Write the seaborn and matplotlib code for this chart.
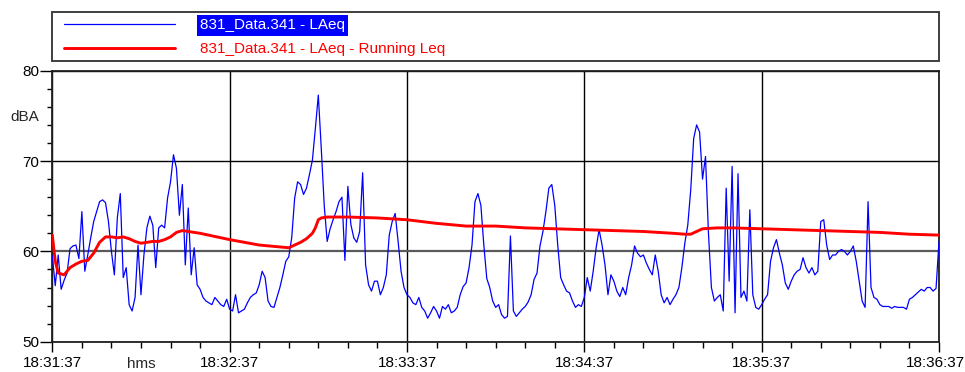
import numpy as np
import pandas as pd
import matplotlib
matplotlib.use("Agg")
import matplotlib.pyplot as plt
import matplotlib.transforms as mtrans
from matplotlib.patches import Rectangle
from matplotlib.ticker import MultipleLocator
import seaborn as sns

# ---------------- data ----------------
# seconds after 18:31:37, LAeq (dBA) at 1 s resolution
laeq = [
    59.5, 56.2, 59.6, 55.8, 56.8, 57.6, 60.3, 60.6, 60.7, 59.2,   # 0-9
    64.4, 57.8, 59.6, 61.5, 63.3, 64.4, 65.5, 65.7, 65.4, 63.3,   # 10-19
    60.0, 57.4, 63.7, 66.4, 57.1, 58.2, 54.1, 53.4, 54.9, 60.7,   # 20-29
    55.2, 59.6, 62.6, 63.9, 62.9, 58.2, 62.6, 62.9, 62.6, 65.9,   # 30-39
    67.7, 70.7, 69.2, 64.0, 67.4, 58.5, 64.8, 57.4, 60.4, 56.3,   # 40-49
    55.8, 54.9, 54.5, 54.3, 54.1, 54.9, 54.5, 54.1, 53.9, 54.7,   # 50-59
    53.6, 53.4, 55.2, 53.2, 53.4, 53.6, 54.3, 54.9, 55.2, 55.4,   # 60-69
    56.3, 57.8, 57.1, 54.5, 53.9, 53.8, 54.9, 56.0, 57.4, 58.9,   # 70-79
    59.4, 61.5, 65.9, 67.7, 67.4, 66.3, 67.0, 68.5, 70.1, 73.6,   # 80-89
    77.3, 71.4, 65.1, 61.1, 62.5, 63.5, 64.4, 65.5, 66.0, 59.0,   # 90-99
    67.2, 63.0, 61.5, 61.0, 62.2, 68.7, 58.5, 56.3, 55.6, 56.7,   # 100-109
    56.7, 55.2, 56.0, 57.4, 61.8, 63.3, 64.2, 61.1, 57.8, 56.0,   # 110-119
    55.2, 54.9, 54.3, 54.1, 54.9, 53.8, 53.4, 52.6, 53.2, 53.9,   # 120-129
    53.4, 52.6, 53.9, 53.6, 54.1, 53.2, 53.4, 53.8, 55.2, 56.1,   # 130-139
    56.5, 58.2, 60.7, 65.5, 66.4, 65.1, 60.7, 57.0, 56.0, 54.5,   # 140-149
    53.8, 54.1, 53.0, 52.6, 52.8, 61.7, 53.4, 52.8, 53.2, 53.6,   # 150-159
    53.9, 54.4, 55.2, 56.9, 57.6, 60.6, 62.2, 64.4, 67.0, 67.4,   # 160-169
    65.1, 60.7, 57.1, 56.3, 55.6, 55.4, 54.5, 53.8, 54.1, 53.9,   # 170-179
    54.9, 57.1, 55.6, 57.8, 60.4, 62.4, 60.7, 58.5, 55.2, 57.4,   # 180-189
    56.7, 55.6, 55.0, 56.0, 55.2, 57.1, 58.5, 60.6, 59.8, 59.4,   # 190-199
    59.6, 58.7, 58.0, 57.4, 59.6, 57.8, 55.2, 54.3, 54.9, 54.1,   # 200-209
    54.7, 55.2, 56.0, 58.2, 60.9, 62.9, 66.8, 72.5, 74.0, 73.2,   # 210-219
    68.0, 70.5, 62.0, 56.0, 54.5, 54.9, 55.2, 53.4, 67.0, 56.7,   # 220-229
    69.4, 53.2, 68.6, 54.9, 55.6, 54.5, 64.6, 55.2, 53.8, 53.6,   # 230-239
    54.1, 54.7, 55.2, 58.9, 60.4, 61.3, 59.8, 58.5, 56.5, 55.8,   # 240-249
    56.7, 57.4, 57.8, 58.0, 59.3, 58.2, 57.6, 58.2, 57.4, 57.8,   # 250-259
    63.3, 63.5, 60.7, 59.1, 59.6, 59.6, 60.0, 60.2, 60.0, 59.6,   # 260-269
    60.0, 60.6, 58.9, 56.7, 54.5, 53.8, 65.5, 56.0, 54.9, 54.7,   # 270-279
    54.1, 53.9, 53.9, 53.9, 53.7, 53.9, 53.8, 53.8, 53.8, 53.6,   # 280-289
    54.7, 54.9, 55.2, 55.5, 55.8, 55.6, 56.0, 56.0, 55.6, 55.9,   # 290-299
    61.1,                                                         # 300
]
laeq_t = list(range(len(laeq)))

# Running Leq (dBA)
run_t = [0, 1, 2, 4, 6, 8, 10, 12, 14, 16, 18, 20, 22, 24, 26, 28, 30, 32, 34, 36,
         38, 40, 42, 44, 46, 48, 50, 60, 70, 80, 82, 84, 86, 88, 89, 90, 91, 93,
         100, 110, 120, 130, 140, 150, 160, 170, 180, 190, 200, 210, 214, 216,
         218, 220, 225, 230, 240, 250, 260, 270, 280, 290, 300]
run_leq = [61.8, 58.9, 57.6, 57.4, 58.2, 58.6, 58.9, 59.0, 59.8, 61.0, 61.6, 61.6,
           61.5, 61.6, 61.4, 61.1, 60.9, 61.0, 61.1, 61.1, 61.3, 61.6, 62.1, 62.3,
           62.2, 62.1, 62.0, 61.3, 60.7, 60.4, 60.7, 61.0, 61.4, 62.0, 62.6, 63.5,
           63.7, 63.8, 63.8, 63.7, 63.5, 63.1, 62.8, 62.8, 62.6, 62.5, 62.4, 62.3,
           62.2, 62.0, 61.9, 61.9, 62.2, 62.5, 62.6, 62.6, 62.5, 62.4, 62.3, 62.2,
           62.1, 61.9, 61.8]

x_ticks = [0, 60, 120, 180, 240, 300]
x_tick_labels = ["18:31:37", "18:32:37", "18:33:37", "18:34:37", "18:35:37", "18:36:37"]
y_ticks = [50, 60, 70, 80]
series_names = ["831_Data.341 - LAeq", "831_Data.341 - LAeq - Running Leq"]
x_axis_label = "hms"
y_axis_label = "dBA"

# ---------------- style ----------------
sns.set_style("white")
FONT, FS = "Liberation Sans", 11
plt.rcParams["font.family"] = [FONT, "DejaVu Sans"]
plt.rcParams["font.size"] = FS

W, H = 965, 372
fig = plt.figure(figsize=(W / 100, H / 100), dpi=100)
L, R, T, B = 52.3, 939, 70.7, 341.7
ax = fig.add_axes([L / W, 1 - B / H, (R - L) / W, (B - T) / H])

df_a = pd.DataFrame({"t": laeq_t, "v": laeq})
df_b = pd.DataFrame({"t": run_t, "v": run_leq})
sns.lineplot(data=df_a, x="t", y="v", ax=ax, color="#0000ff", linewidth=0.9,
             label=series_names[0], zorder=3)
sns.lineplot(data=df_b, x="t", y="v", ax=ax, color="#ff0000", linewidth=2.1,
             label=series_names[1], zorder=4)

ax.set_xlim(x_ticks[0], x_ticks[-1])
ax.set_ylim(y_ticks[0], y_ticks[-1])
ax.set_xticks(x_ticks)
ax.set_xticklabels(x_tick_labels)
ax.set_yticks(y_ticks)
ax.set_yticklabels([str(v) for v in y_ticks])
ax.xaxis.set_minor_locator(MultipleLocator(10))
ax.yaxis.set_minor_locator(MultipleLocator(2))
ax.tick_params(axis="both", which="both", direction="out", colors="black",
               labelsize=FS, left=True, bottom=True)
ax.tick_params(axis="y", which="major", length=8.5, width=1, pad=0.8)
ax.tick_params(axis="y", which="minor", length=3.6, width=1)
ax.tick_params(axis="x", which="major", length=7.5, width=1, pad=2.5)
ax.tick_params(axis="x", which="minor", length=4.3, width=1)

# keep the last time label inside the canvas
last = ax.get_xticklabels()[-1]
last.set_transform(last.get_transform() +
                   mtrans.ScaledTranslation(-4 / 100, 0, fig.dpi_scale_trans))

for s in ax.spines.values():
    s.set_color("#202020")
    s.set_linewidth(1.3)
    s.set_visible(True)

ax.grid(True, which="major", axis="both", color="black", linewidth=1.0)
for val, gl in zip(ax.get_yticks(), ax.get_ygridlines()):
    if val == 60:
        gl.set_color("#5a5a5a")
        gl.set_linewidth(1.6)
ax.set_axisbelow(True)

ax.set_xlabel(x_axis_label, fontsize=FS)
ax.xaxis.set_label_coords(0.1, -0.058)
ax.set_ylabel(y_axis_label, fontsize=FS, rotation=0, ha="right", va="center")
ax.yaxis.set_label_coords(-0.0143, 0.83)

# legend in the box above the plot
handles, labels = ax.get_legend_handles_labels()
if ax.get_legend():
    ax.get_legend().remove()
em = FS * 100 / 72
leg = fig.legend(handles, labels, loc="upper left",
                 bbox_to_anchor=(64 / W, 1 - 18.5 / H), bbox_transform=fig.transFigure,
                 frameon=False, borderpad=0, borderaxespad=0,
                 handlelength=111 / em, handletextpad=25 / em, labelspacing=0.62,
                 fontsize=FS)
t0, t1 = leg.get_texts()
t0.set_color("white")
t0.set_bbox(dict(boxstyle="square,pad=0.2", fc="#0000ff", ec="none"))
t1.set_color("#ff0000")
box = Rectangle((52 / W, 1 - 61.3 / H), (939 - 52) / W, 49 / H, transform=fig.transFigure,
                fill=False, edgecolor="#303030", linewidth=1.3)
fig.add_artist(box)

fig.savefig("out.png", dpi=100, facecolor="white")
